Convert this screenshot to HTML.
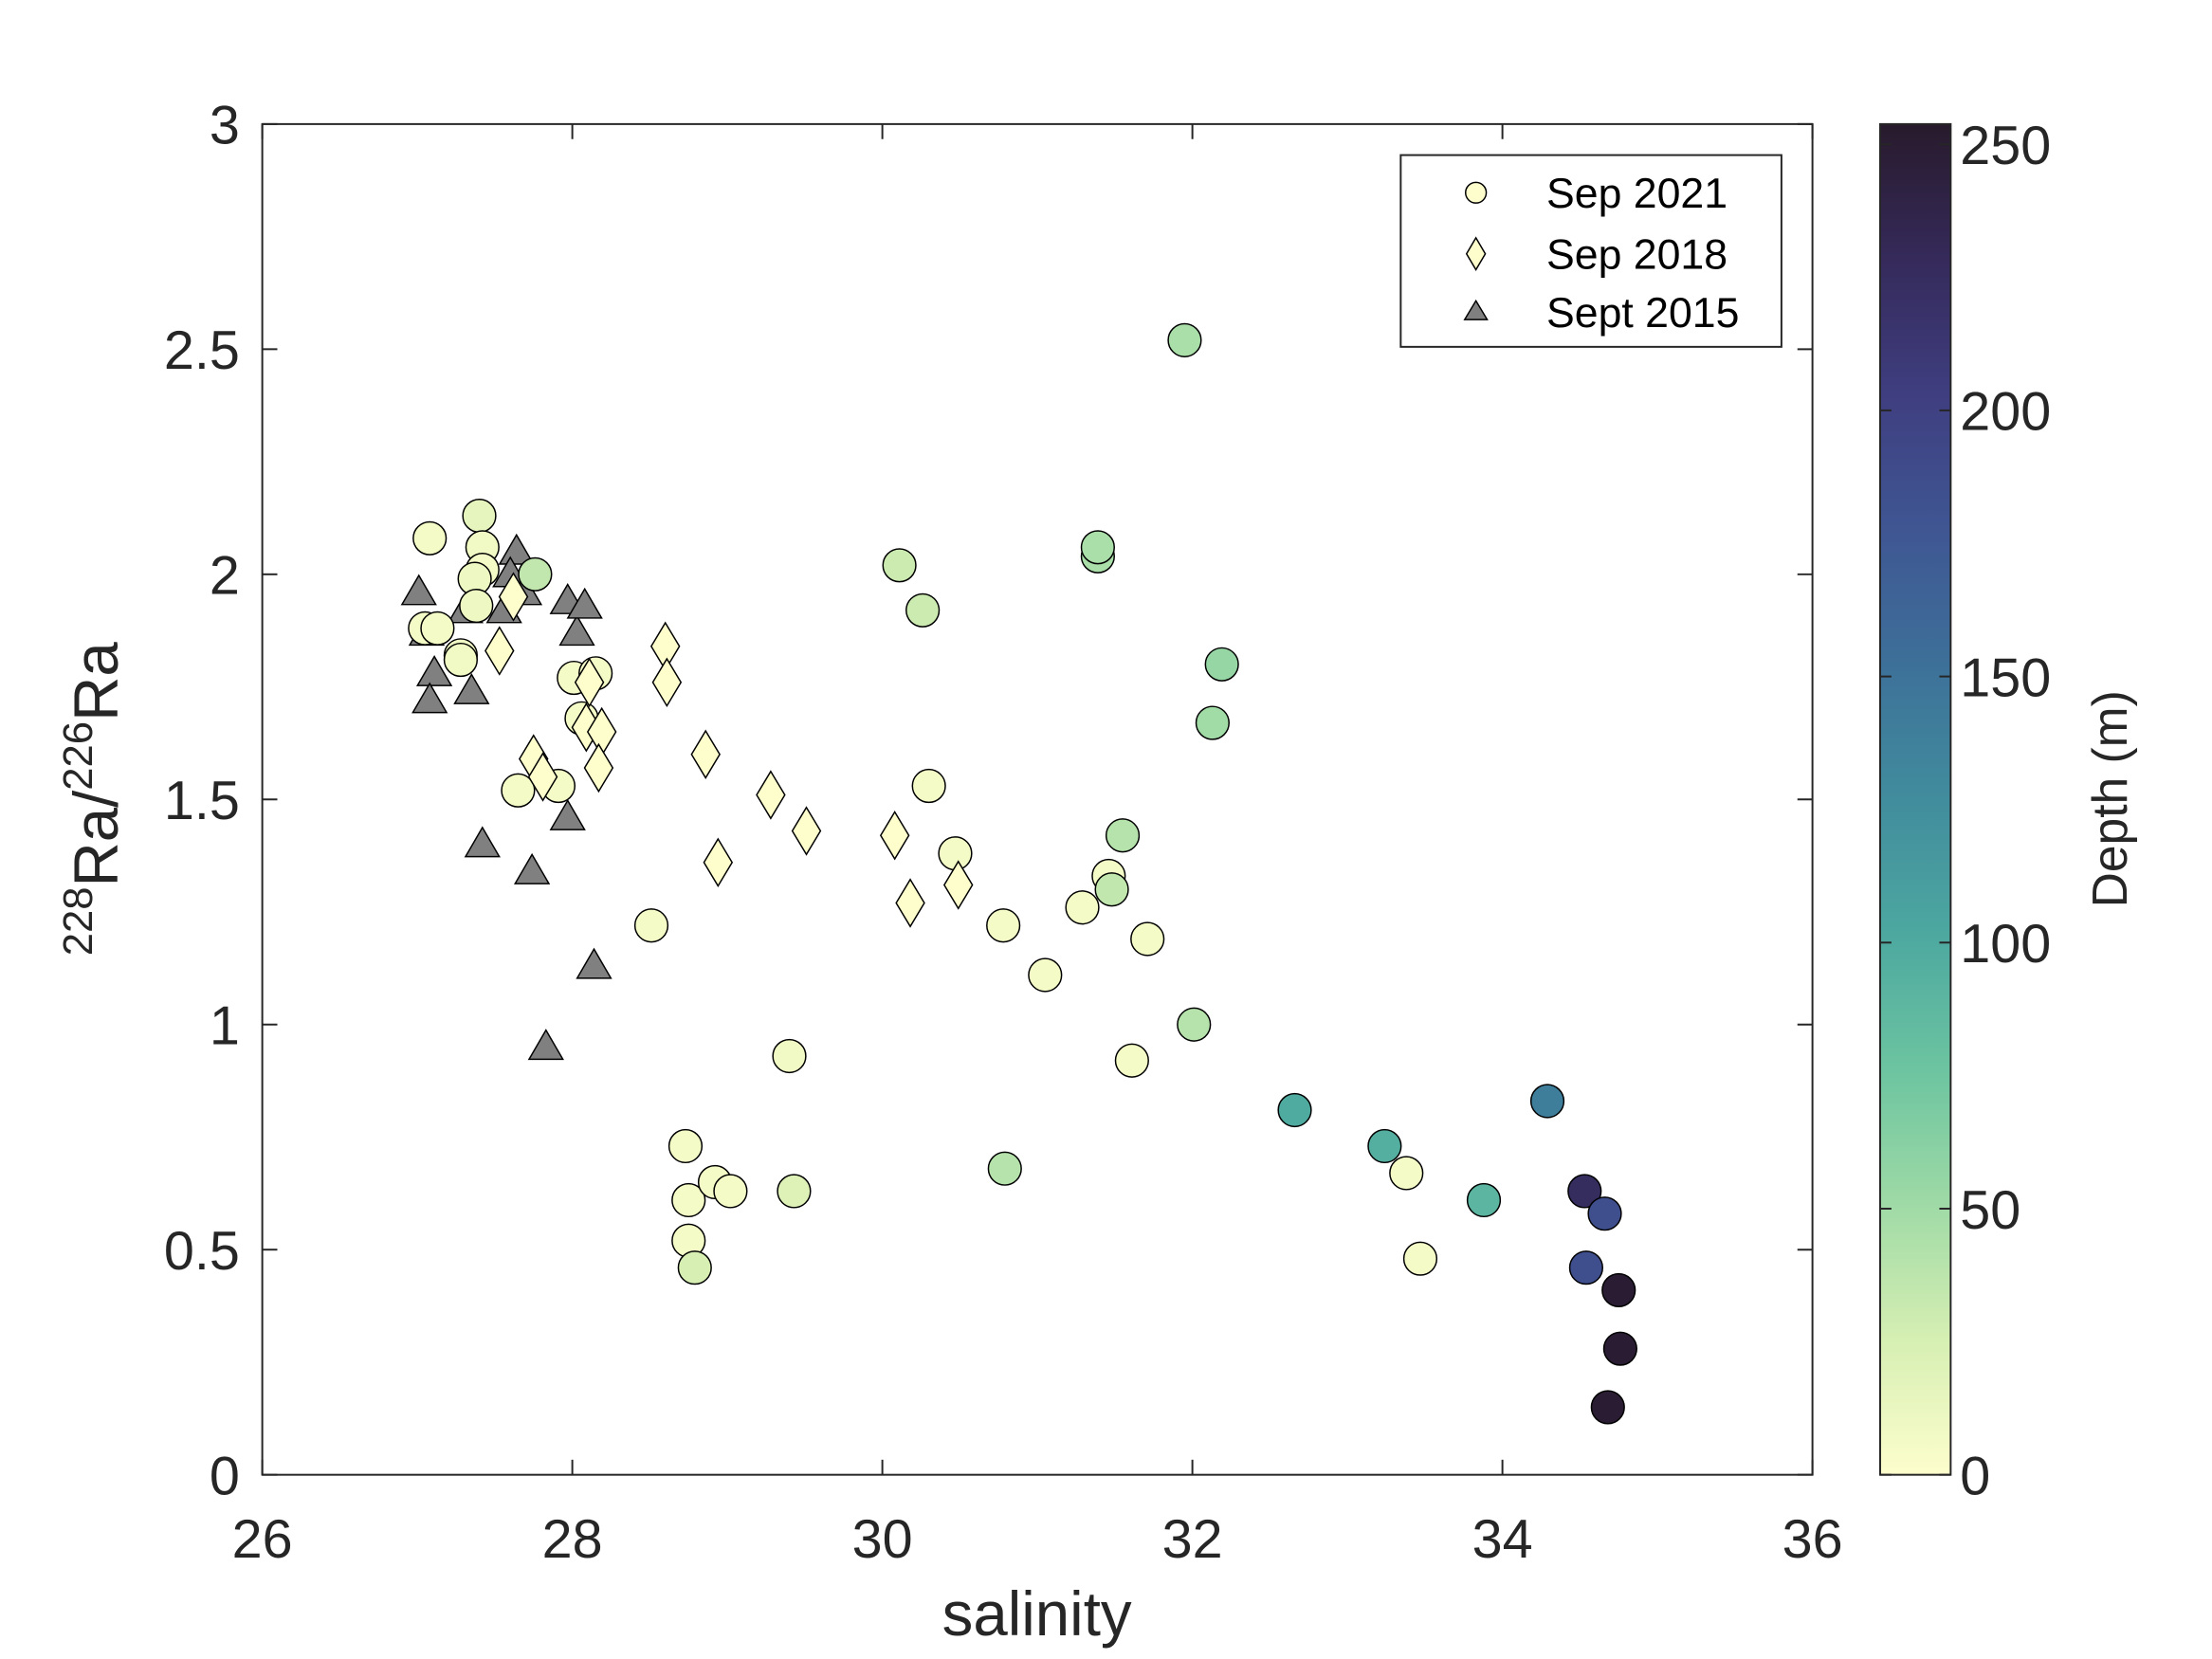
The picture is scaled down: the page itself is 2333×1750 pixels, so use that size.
<!DOCTYPE html>
<html><head><meta charset="utf-8"><style>
html,body{margin:0;padding:0;background:#fff;}
svg{display:block;font-family:"Liberation Sans",sans-serif;}
</style></head><body>
<svg id="chart" width="2333" height="1750" viewBox="0 0 2333 1750" xmlns="http://www.w3.org/2000/svg">
<defs>
<linearGradient id="cmap" x1="0" y1="1" x2="0" y2="0">
<stop offset="0" stop-color="#fdfecc"/>
<stop offset="0.1" stop-color="#d6efb3"/>
<stop offset="0.2" stop-color="#9fdaa6"/>
<stop offset="0.3" stop-color="#6cc4a0"/>
<stop offset="0.4" stop-color="#4da8a0"/>
<stop offset="0.5" stop-color="#418c9d"/>
<stop offset="0.6" stop-color="#3d7099"/>
<stop offset="0.7" stop-color="#3f5693"/>
<stop offset="0.8" stop-color="#3f3e80"/>
<stop offset="0.9" stop-color="#352a5a"/>
<stop offset="1" stop-color="#281a2c"/>
</linearGradient>
</defs>
<g transform="scale(0.9915)">
<rect x="279" y="132" width="1649" height="1437" fill="#fff" stroke="#262626" stroke-width="2"/>
<g id="axes"></g>
<g id="marks"></g>
<g>
<rect x="1490" y="165" width="405" height="204" fill="#fff" stroke="#262626" stroke-width="2"/>
<g>
<circle cx="1570" cy="205" r="11" fill="#fdfecc" stroke="#000" stroke-width="1.5"/>
<text x="1645" y="221" font-size="45" fill="#000">Sep 2021</text></g>
<g>
<polygon points="1570,253 1580,270 1570,287 1560,270" fill="#fdfecc" stroke="#000" stroke-width="1.5"/>
<text x="1645" y="286" font-size="45" fill="#000">Sep 2018</text></g>
<g>
<polygon points="1570,320 1582,340 1558,340" fill="#808080" stroke="#000" stroke-width="1.5"/>
<text x="1645" y="348" font-size="45" fill="#000">Sept 2015</text></g>
</g>
<rect x="2000" y="132" width="75" height="1437" fill="url(#cmap)" stroke="#262626" stroke-width="2"/>
<g id="cbticks"></g>
<text x="1103" y="1740" font-size="66" text-anchor="middle" fill="#262626">salinity</text>
<text transform="translate(125,850) rotate(-90)" font-size="66" text-anchor="middle" fill="#262626"><tspan font-size="44" dy="-27">228</tspan><tspan dy="27">Ra/</tspan><tspan font-size="44" dy="-27">226</tspan><tspan dy="27">Ra</tspan></text>
<text transform="translate(2262,850) rotate(-90)" font-size="52" text-anchor="middle" fill="#262626">Depth (m)</text>
</g>
</svg>
<script>
const xTicks=[26,28,30,32,34,36];
const yTicks=[0,0.5,1,1.5,2,2.5,3];
const yTickLabels=["0","0.5","1","1.5","2","2.5","3"];
const cbTicks=[0,50,100,150,200,250];
const sal2021=[27.08,27.40,27.42,27.42,27.37,27.38,27.76,27.05,27.13,27.28,27.28,28.01,28.15,28.06,27.65,27.91,28.51,29.40,29.43,28.73,28.75,28.75,28.79,28.92,29.02,30.11,30.26,30.30,30.47,30.78,31.05,30.79,31.29,31.46,31.48,31.55,31.71,31.61,31.39,31.39,31.95,32.19,32.13,32.01,32.66,33.24,33.38,33.47,33.88,34.29,34.53,34.66,34.54,34.75,34.76,34.68];
const ratio2021=[2.08,2.13,2.06,2.01,1.99,1.93,2.00,1.88,1.88,1.82,1.81,1.77,1.78,1.68,1.52,1.53,1.22,0.93,0.63,0.73,0.61,0.52,0.46,0.65,0.63,2.02,1.92,1.53,1.38,1.22,1.11,0.68,1.26,1.33,1.30,1.42,1.19,0.92,2.04,2.06,2.52,1.80,1.67,1.00,0.81,0.73,0.67,0.48,0.61,0.83,0.63,0.58,0.46,0.41,0.28,0.15];
const depth2021=[5,15,8,5,10,10,35,5,5,8,8,5,5,5,5,5,5,8,20,5,5,5,25,5,5,30,30,5,5,5,5,40,5,5,35,40,5,5,45,45,45,55,50,40,100,95,5,5,90,140,225,185,185,250,250,250];
const sal2018=[27.62,27.53,27.75,27.81,28.11,28.09,28.19,28.17,28.60,28.61,28.86,28.94,29.28,29.51,30.08,30.18,30.49];
const ratio2018=[1.95,1.83,1.59,1.55,1.76,1.66,1.65,1.57,1.84,1.76,1.60,1.36,1.51,1.43,1.42,1.27,1.31];
const sal2015=[27.01,27.06,27.11,27.08,27.35,27.31,27.64,27.56,27.60,27.69,27.42,27.74,27.83,27.97,27.97,28.03,28.08,28.14];
const ratio2015=[1.96,1.87,1.78,1.72,1.74,1.92,2.05,1.92,2.00,1.96,1.40,1.34,0.95,1.46,1.94,1.87,1.93,1.13];

const NS="http://www.w3.org/2000/svg";
const X0=279,X1=1928,Y0=1569,Y1=132,CBMAX=253.8;
function xs(s){return X0+(s-26)/10*(X1-X0);}
function ys(r){return Y0-r/3*(Y0-Y1);}
function cy(d){return Y0-d/CBMAX*(Y0-Y1);}
const stops=[[0,[253,254,204]],[0.1,[214,239,179]],[0.2,[159,218,166]],[0.3,[108,196,160]],[0.4,[77,168,160]],[0.5,[65,140,157]],[0.6,[61,112,153]],[0.7,[63,86,147]],[0.8,[63,62,128]],[0.9,[53,42,90]],[1,[40,26,44]]];
function cmap(d){let t=Math.max(0,Math.min(1,d/CBMAX));for(let i=1;i<stops.length;i++){if(t<=stops[i][0]){const a=stops[i-1],b=stops[i];const f=(t-a[0])/(b[0]-a[0]);const c=a[1].map((v,k)=>Math.round(v+(b[1][k]-v)*f));return `rgb(${c.join(',')})`;}}return 'rgb(40,26,44)';}
function mk(tag,attrs,parent){const e=document.createElementNS(NS,tag);for(const k in attrs)e.setAttribute(k,attrs[k]);parent.appendChild(e);return e;}
const ax=document.getElementById('axes');
xTicks.forEach(v=>{const x=xs(v);
 mk('line',{x1:x,x2:x,y1:Y0,y2:Y0-16,stroke:'#262626','stroke-width':2},ax);
 mk('line',{x1:x,x2:x,y1:Y1,y2:Y1+16,stroke:'#262626','stroke-width':2},ax);
 const t=mk('text',{x:x,y:1657,'font-size':58,'text-anchor':'middle',fill:'#262626'},ax);t.textContent=v;
 
 });
yTicks.forEach((v,i)=>{const y=ys(v);
 mk('line',{x1:X0,x2:X0+16,y1:y,y2:y,stroke:'#262626','stroke-width':2},ax);
 mk('line',{x1:X1,x2:X1-16,y1:y,y2:y,stroke:'#262626','stroke-width':2},ax);
 const t=mk('text',{x:255,y:y+21,'font-size':58,'text-anchor':'end',fill:'#262626'},ax);t.textContent=yTickLabels[i];
 
 });
const cb=document.getElementById('cbticks');
cbTicks.forEach(v=>{const y=cy(v);
 mk('line',{x1:2000,x2:2012,y1:y,y2:y,stroke:'#262626','stroke-width':2},cb);
 mk('line',{x1:2075,x2:2063,y1:y,y2:y,stroke:'#262626','stroke-width':2},cb);
 const t=mk('text',{x:2085,y:y+21,'font-size':58,fill:'#262626'},cb);t.textContent=v;
 
 });
const m=document.getElementById('marks');
sal2015.forEach((s,i)=>{const x=xs(s),y=ys(ratio2015[i]);
 const p=mk('polygon',{points:`${x},${y-18} ${x+18},${y+13} ${x-18},${y+13}`,fill:'#808080',stroke:'#000','stroke-width':1.5},m);
 
 });
sal2021.forEach((s,i)=>{const c=mk('circle',{cx:xs(s),cy:ys(ratio2021[i]),r:17.5,fill:cmap(depth2021[i]),stroke:'#000','stroke-width':1.5},m);
 
 });
sal2018.forEach((s,i)=>{const x=xs(s),y=ys(ratio2018[i]);
 const p=mk('polygon',{points:`${x},${y-25} ${x+15},${y} ${x},${y+25} ${x-15},${y}`,fill:'#fdfecc',stroke:'#000','stroke-width':1.5},m);
 
 });
</script>
</body></html>
